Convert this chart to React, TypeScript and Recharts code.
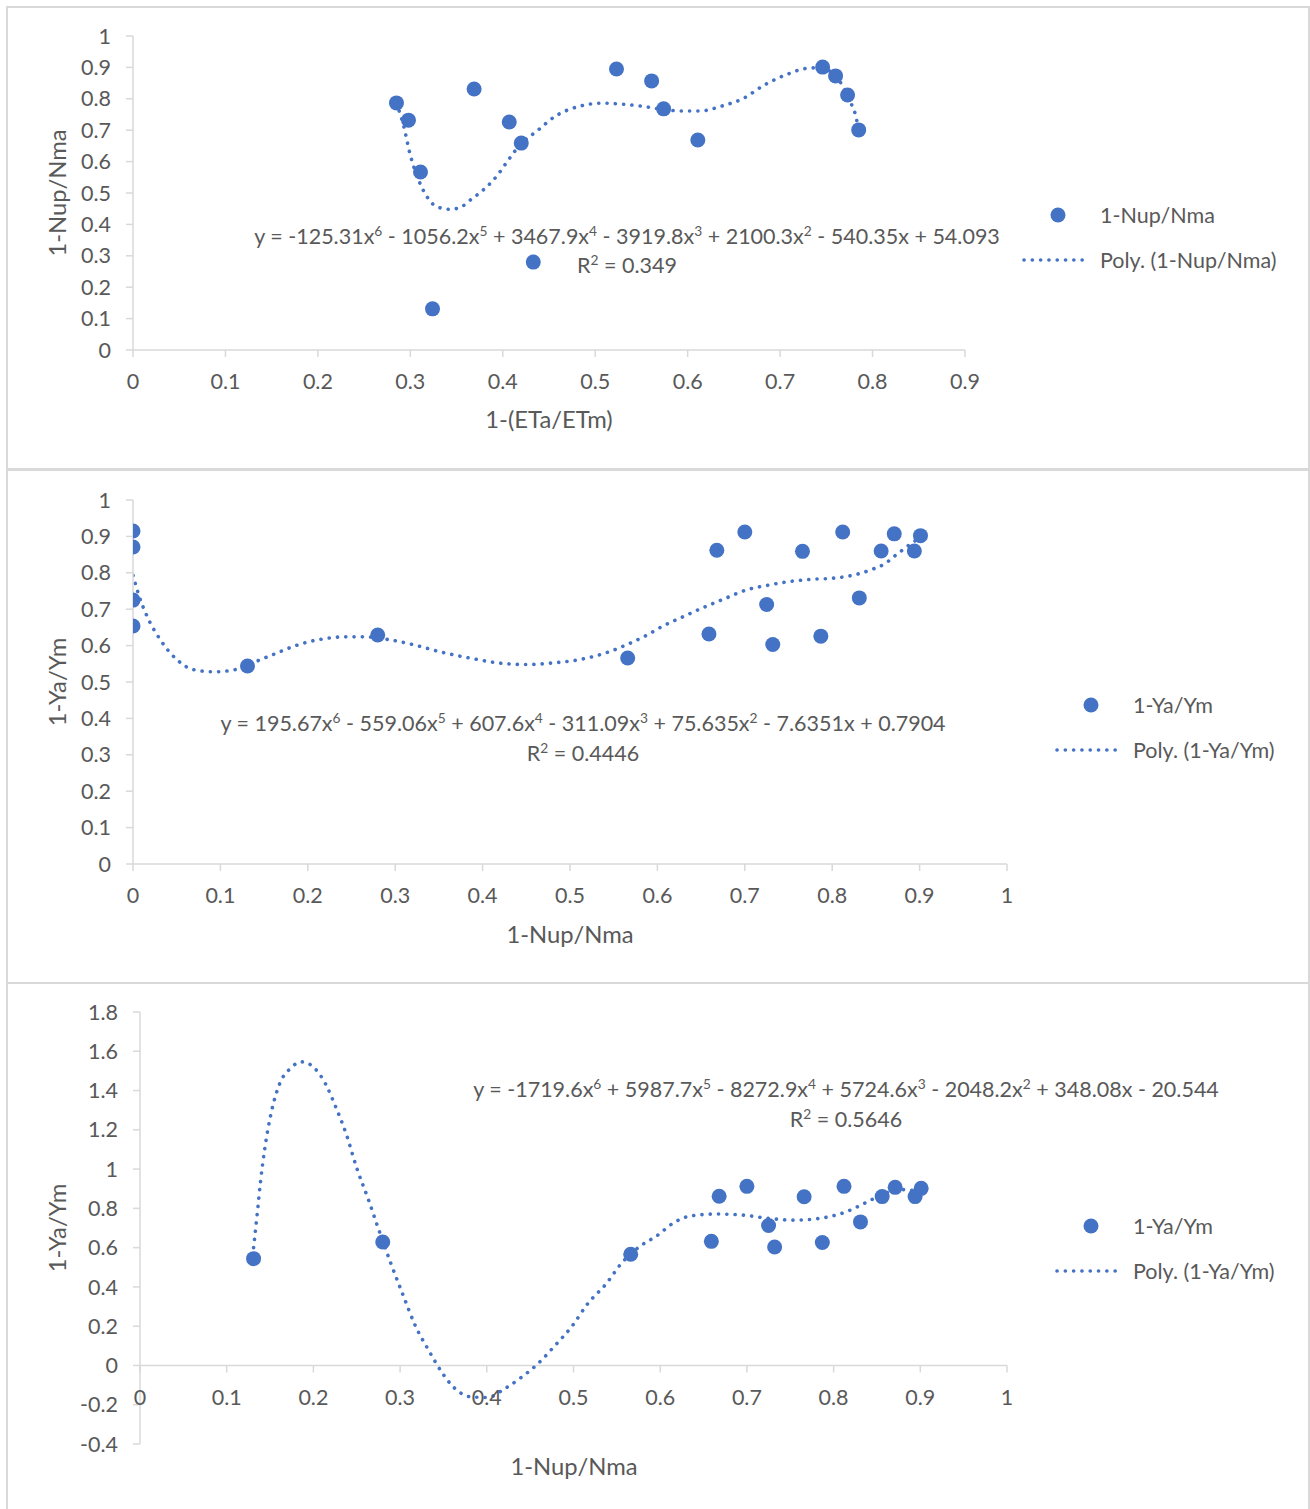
import React from 'react';
import { ComposedChart, Scatter, Line, XAxis, YAxis, Legend, ReferenceLine, ReferenceDot } from 'recharts';

const FONT = 'Lato, "Noto Sans", sans-serif';
const FS = 21.5;
const TITLE_FS = 23.8;
const TEXT = '#595959';
const BLUE = '#4472C4';
const GRID = '#d9d9d9';

// ---------- Panel 1: 1-(ETa/ETm) vs 1-Nup/Nma ----------
const etaDeficit = [0.285, 0.298, 0.311, 0.324, 0.369, 0.407, 0.420, 0.433, 0.523, 0.561, 0.574, 0.611, 0.746, 0.760, 0.773, 0.785];
const nupByEta = [0.787, 0.732, 0.567, 0.131, 0.831, 0.726, 0.659, 0.280, 0.895, 0.857, 0.768, 0.669, 0.901, 0.873, 0.812, 0.701];
const trend1X = [0.285, 0.293, 0.2995, 0.309, 0.318, 0.329, 0.343, 0.354, 0.365, 0.379, 0.393, 0.406, 0.420, 0.436, 0.456, 0.484, 0.506, 0.529, 0.549, 0.574, 0.595, 0.613, 0.637, 0.660, 0.683, 0.706, 0.729, 0.743, 0.757, 0.766, 0.775, 0.782, 0.785];
const trend1Y = [0.786, 0.711, 0.626, 0.541, 0.488, 0.456, 0.448, 0.454, 0.478, 0.510, 0.552, 0.605, 0.658, 0.695, 0.743, 0.777, 0.786, 0.783, 0.777, 0.766, 0.761, 0.761, 0.777, 0.801, 0.844, 0.876, 0.897, 0.899, 0.881, 0.849, 0.796, 0.743, 0.700];

// ---------- Panels 2 & 3: 1-Nup/Nma vs 1-Ya/Ym ----------
const nupDeficit = [0.131, 0.280, 0.566, 0.659, 0.668, 0.700, 0.725, 0.732, 0.766, 0.787, 0.812, 0.831, 0.856, 0.871, 0.894, 0.901];
const yaDeficit = [0.544, 0.629, 0.566, 0.632, 0.862, 0.912, 0.713, 0.603, 0.859, 0.626, 0.912, 0.731, 0.860, 0.907, 0.860, 0.902];
const nupZero = [0, 0, 0, 0];
const yaAtZero = [0.915, 0.871, 0.725, 0.654];

const trend2X = [0, 0.007, 0.016, 0.031, 0.050, 0.069, 0.093, 0.117, 0.137, 0.161, 0.185, 0.214, 0.243, 0.267, 0.291, 0.320, 0.353, 0.387, 0.416, 0.449, 0.483, 0.512, 0.541, 0.570, 0.589, 0.605, 0.629, 0.653, 0.678, 0.702, 0.727, 0.751, 0.776, 0.800, 0.825, 0.844, 0.861, 0.873, 0.883, 0.893, 0.901];
const trend2Y = [0.793, 0.736, 0.681, 0.617, 0.562, 0.534, 0.528, 0.534, 0.553, 0.576, 0.599, 0.617, 0.624, 0.624, 0.617, 0.603, 0.582, 0.565, 0.553, 0.548, 0.553, 0.562, 0.580, 0.608, 0.630, 0.652, 0.679, 0.705, 0.730, 0.753, 0.766, 0.776, 0.782, 0.785, 0.794, 0.808, 0.826, 0.849, 0.867, 0.885, 0.895];

const trend3X = [0.131, 0.135, 0.139, 0.144, 0.151, 0.161, 0.173, 0.187, 0.202, 0.214, 0.226, 0.238, 0.250, 0.263, 0.275, 0.289, 0.304, 0.318, 0.333, 0.348, 0.362, 0.382, 0.401, 0.420, 0.440, 0.459, 0.479, 0.498, 0.517, 0.537, 0.556, 0.577, 0.596, 0.616, 0.636, 0.665, 0.695, 0.725, 0.754, 0.784, 0.813, 0.838, 0.858, 0.877, 0.892, 0.901];
const trend3Y = [0.600, 0.764, 0.936, 1.108, 1.280, 1.434, 1.511, 1.546, 1.511, 1.434, 1.314, 1.177, 1.005, 0.850, 0.696, 0.524, 0.352, 0.198, 0.077, -0.034, -0.112, -0.160, -0.163, -0.120, -0.060, 0.009, 0.103, 0.198, 0.318, 0.412, 0.524, 0.608, 0.660, 0.728, 0.762, 0.771, 0.766, 0.749, 0.740, 0.749, 0.780, 0.831, 0.874, 0.896, 0.891, 0.885];

// ---------- ticks ----------
const xTicks09 = [0, 0.1, 0.2, 0.3, 0.4, 0.5, 0.6, 0.7, 0.8, 0.9];
const xTicks10 = [0, 0.1, 0.2, 0.3, 0.4, 0.5, 0.6, 0.7, 0.8, 0.9, 1];
const yTicks10 = [0, 0.1, 0.2, 0.3, 0.4, 0.5, 0.6, 0.7, 0.8, 0.9, 1];
const yTicks3 = [-0.4, -0.2, 0, 0.2, 0.4, 0.6, 0.8, 1, 1.2, 1.4, 1.6, 1.8];

const zip = (xs: number[], ys: number[]) => xs.map((x, i) => ({ x, y: ys[i] }));

const DotShape = (p: any) => <circle cx={p.cx} cy={p.cy} r={7.5} fill={BLUE} />;

const tickStyle = { fill: TEXT, fontSize: FS, fontFamily: FONT };
const axisLineStyle = { stroke: GRID, strokeWidth: 1.5 };
const DASH = '0.1 8.2';
const TREND_W = 3.6;

function LegendContent({ dotName, lineName }: { dotName: string; lineName: string }) {
  return (
    <svg width={300} height={90} style={{ overflow: 'visible', display: 'block' }}>
      <circle cx={43} cy={20} r={7.5} fill={BLUE} />
      <text x={85} y={20} dominantBaseline="central" fill={TEXT} fontSize={FS} fontFamily={FONT}>{dotName}</text>
      <line x1={9} y1={65} x2={74} y2={65} stroke={BLUE} strokeWidth={TREND_W} strokeDasharray={DASH} strokeLinecap="round" />
      <text x={85} y={65} dominantBaseline="central" fill={TEXT} fontSize={FS} fontFamily={FONT}>{lineName}</text>
    </svg>
  );
}

type PanelProps = {
  top: number;
  height: number;
  margin: { top: number; right: number; bottom: number; left: number };
  xDomain: [number, number];
  xTicks: number[];
  yDomain: [number, number];
  yTicks: number[];
  points: { x: number; y: number }[];
  trend: { x: number; y: number }[];
  dotName: string;
  lineName: string;
  legendLeft: number;
  legendTop: number;
  axisAtZero?: boolean;
};

function Panel(p: PanelProps) {
  return (
    <div style={{ position: 'absolute', left: 0, top: p.top, width: 1310, height: p.height }}>
      <ComposedChart width={1310} height={p.height} margin={p.margin}>
        <XAxis
          type="number"
          dataKey="x"
          domain={p.xDomain}
          ticks={p.xTicks}
          interval={0}
          allowDataOverflow
          hide={!!p.axisAtZero}
          height={40}
          tick={tickStyle}
          tickSize={7}
          tickMargin={17}
          axisLine={axisLineStyle}
          tickLine={axisLineStyle}
        />
        <YAxis
          type="number"
          dataKey="y"
          domain={p.yDomain}
          ticks={p.yTicks}
          interval={0}
          allowDataOverflow
          width={60}
          tick={tickStyle}
          tickSize={7}
          tickMargin={15}
          axisLine={axisLineStyle}
          tickLine={axisLineStyle}
        />
        {p.axisAtZero && <ReferenceLine y={0} stroke={GRID} strokeWidth={1.5} />}
        {p.axisAtZero &&
          p.xTicks.map((t) => (
            <ReferenceDot
              key={'t' + t}
              x={t}
              y={0}
              r={1}
              shape={(s: any) => (
                <g>
                  <line x1={s.cx} y1={s.cy} x2={s.cx} y2={s.cy + 7} stroke={GRID} strokeWidth={1.5} />
                  <text x={s.cx} y={s.cy + 32} textAnchor="middle" dominantBaseline="central" fill={TEXT} fontSize={FS} fontFamily={FONT}>
                    {String(t)}
                  </text>
                </g>
              )}
            />
          ))}
        <Scatter name={p.dotName} data={p.points} dataKey="y" shape={DotShape} isAnimationActive={false} />
        <Line
          name={p.lineName}
          data={p.trend}
          dataKey="y"
          type="monotone"
          stroke={BLUE}
          strokeWidth={TREND_W}
          strokeDasharray={DASH}
          strokeLinecap="round"
          dot={false}
          activeDot={false}
          isAnimationActive={false}
        />
        <Legend
          layout="horizontal"
          verticalAlign="middle"
          align="center"
          wrapperStyle={{ left: p.legendLeft, top: p.legendTop, width: 300, height: 90, right: 'auto', bottom: 'auto' }}
          content={() => <LegendContent dotName={p.dotName} lineName={p.lineName} />}
        />
      </ComposedChart>
    </div>
  );
}

const textBase: React.CSSProperties = {
  position: 'absolute',
  fontFamily: FONT,
  fontSize: FS,
  color: TEXT,
  whiteSpace: 'nowrap',
  lineHeight: 1,
};

function Centered({ x, y, children, rotate, size }: { x: number; y: number; children: React.ReactNode; rotate?: boolean; size?: number }) {
  return (
    <div
      style={{
        ...textBase,
        fontSize: size ?? FS,
        left: x,
        top: y,
        transform: `translate(-50%, -50%)${rotate ? ' rotate(-90deg)' : ''}`,
      }}
    >
      {children}
    </div>
  );
}

const Sup = ({ children }: { children: React.ReactNode }) => (
  <sup style={{ fontSize: '0.64em', lineHeight: 0, verticalAlign: '0.6em' }}>{children}</sup>
);

function Frame({ top, height }: { top: number; height: number }) {
  return (
    <div
      style={{
        position: 'absolute',
        left: 6,
        top,
        width: 1304,
        height,
        border: `2px solid ${GRID}`,
        boxSizing: 'border-box',
      }}
    />
  );
}

export default function App() {
  const pts1 = zip(etaDeficit, nupByEta);
  const pts2 = [...zip(nupZero, yaAtZero), ...zip(nupDeficit, yaDeficit)];
  const pts3 = zip(nupDeficit, yaDeficit);
  return (
    <div style={{ position: 'absolute', left: 0, top: 0, width: 1310, height: 1509, background: '#fff', overflow: 'hidden' }}>
      <Frame top={6} height={465} />
      <Frame top={468} height={516} />
      <Frame top={982} height={600} />

      <Panel
        top={0}
        height={470}
        margin={{ top: 36, right: 345, bottom: 80, left: 73 }}
        xDomain={[0, 0.9]}
        xTicks={xTicks09}
        yDomain={[0, 1]}
        yTicks={yTicks10}
        points={pts1}
        trend={zip(trend1X, trend1Y)}
        dotName="1-Nup/Nma"
        lineName="Poly. (1-Nup/Nma)"
        legendLeft={1015}
        legendTop={195}
      />
      <Panel
        top={470}
        height={514}
        margin={{ top: 30, right: 303, bottom: 80, left: 73 }}
        xDomain={[0, 1]}
        xTicks={xTicks10}
        yDomain={[0, 1]}
        yTicks={yTicks10}
        points={pts2}
        trend={zip(trend2X, trend2Y)}
        dotName="1-Ya/Ym"
        lineName="Poly. (1-Ya/Ym)"
        legendLeft={1048}
        legendTop={215}
      />
      <Panel
        top={984}
        height={525}
        margin={{ top: 28, right: 303, bottom: 65, left: 80 }}
        xDomain={[0, 1]}
        xTicks={xTicks10}
        yDomain={[-0.4, 1.8]}
        yTicks={yTicks3}
        points={pts3}
        trend={zip(trend3X, trend3Y)}
        dotName="1-Ya/Ym"
        lineName="Poly. (1-Ya/Ym)"
        legendLeft={1048}
        legendTop={222}
        axisAtZero
      />

      {/* axis titles */}
      <Centered x={58} y={193} rotate size={TITLE_FS}>1-Nup/Nma</Centered>
      <Centered x={549} y={420} size={TITLE_FS}>1-(ETa/ETm)</Centered>
      <Centered x={58} y={682} rotate size={TITLE_FS}>1-Ya/Ym</Centered>
      <Centered x={570} y={935} size={TITLE_FS}>1-Nup/Nma</Centered>
      <Centered x={58} y={1228} rotate size={TITLE_FS}>1-Ya/Ym</Centered>
      <Centered x={574} y={1467} size={TITLE_FS}>1-Nup/Nma</Centered>

      {/* trendline equations */}
      <Centered x={627} y={237}>
        y = -125.31x<Sup>6</Sup> - 1056.2x<Sup>5</Sup> + 3467.9x<Sup>4</Sup> - 3919.8x<Sup>3</Sup> + 2100.3x<Sup>2</Sup> - 540.35x + 54.093
      </Centered>
      <Centered x={627} y={266}>
        R<Sup>2</Sup> = 0.349
      </Centered>
      <Centered x={583} y={724}>
        y = 195.67x<Sup>6</Sup> - 559.06x<Sup>5</Sup> + 607.6x<Sup>4</Sup> - 311.09x<Sup>3</Sup> + 75.635x<Sup>2</Sup> - 7.6351x + 0.7904
      </Centered>
      <Centered x={583} y={754}>
        R<Sup>2</Sup> = 0.4446
      </Centered>
      <Centered x={846} y={1090}>
        y = -1719.6x<Sup>6</Sup> + 5987.7x<Sup>5</Sup> - 8272.9x<Sup>4</Sup> + 5724.6x<Sup>3</Sup> - 2048.2x<Sup>2</Sup> + 348.08x - 20.544
      </Centered>
      <Centered x={846} y={1120}>
        R<Sup>2</Sup> = 0.5646
      </Centered>
    </div>
  );
}
